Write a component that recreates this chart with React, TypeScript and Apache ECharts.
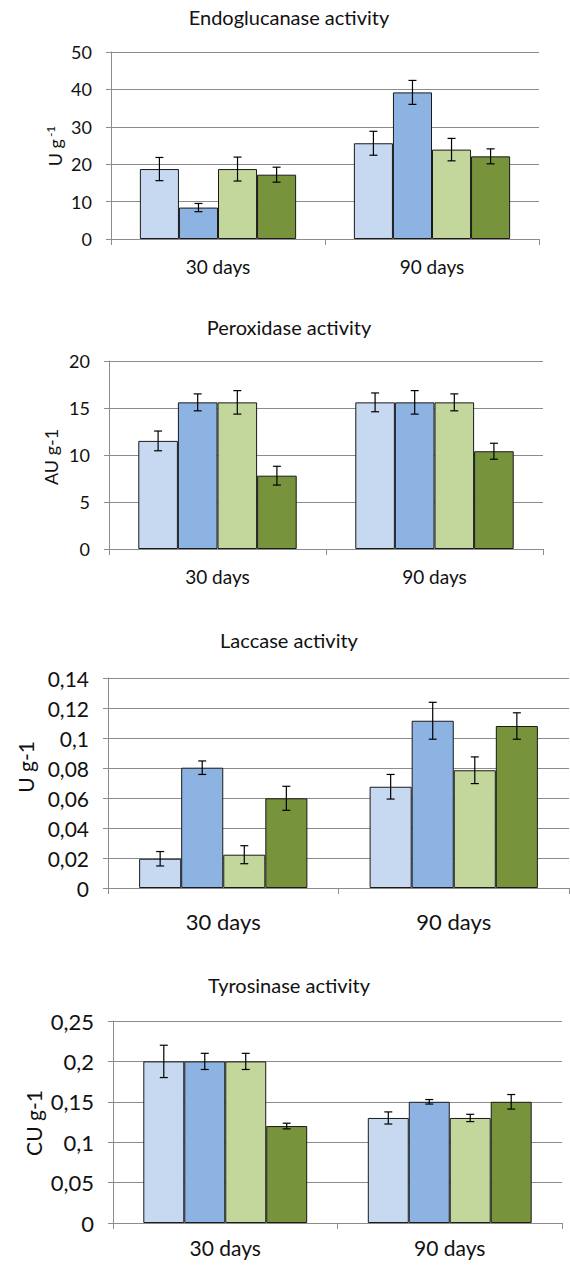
import React, { useEffect, useRef } from "react";
import * as echarts from "echarts";

const categories = ["30 days", "90 days"];

// Endoglucanase (U g-1): one row per treatment, [30 days, 90 days]
const endoMeans = [[18.7, 25.6], [8.4, 39.2], [18.7, 23.9], [17.2, 22.1]];
const endoErrs = [[3.1, 3.2], [1.1, 3.2], [3.2, 3.0], [2.0, 2.0]];

// Peroxidase (AU g-1)
const peroxMeans = [[11.5, 15.6], [15.6, 15.6], [15.6, 15.6], [7.8, 10.4]];
const peroxErrs = [[1.05, 1.0], [0.9, 1.25], [1.25, 0.9], [1.0, 0.85]];

// Laccase (U g-1)
const laccMeans = [[0.0195, 0.0675], [0.0802, 0.1115], [0.0222, 0.0785], [0.0598, 0.108]];
const laccErrs = [[0.0048, 0.0082], [0.0045, 0.0123], [0.006, 0.0089], [0.008, 0.0088]];

// Tyrosinase (CU g-1)
const tyroMeans = [[0.2, 0.13], [0.2, 0.15], [0.2, 0.13], [0.12, 0.15]];
const tyroErrs = [[0.02, 0.0075], [0.01, 0.0028], [0.01, 0.0045], [0.0035, 0.009]];

const titles = ["Endoglucanase activity", "Peroxidase activity", "Laccase activity", "Tyrosinase activity"];
const yNames = ["{a|U g}{b|-1}", "{a|AU g-1}", "{a|U g-1}", "{a|CU g-1}"];
const yMax = [50, 20, 0.14, 0.25];
const yInterval = [10, 5, 0.02, 0.05];

const colors = ["#C6D9F1", "#8DB3E2", "#C3D69B", "#77933C"];
const GAP = 0.27;
const FONT = "Lato";
const GRID_COLOR = "#8c8c8c";

const layouts = [
  { left: 111, top: 52, width: 428, height: 187, titleY: 17, nameX: 55, nameY: 146, tickFont: 18, catFont: 19, xMargin: 18, nameFont: 18 },
  { left: 109, top: 361, width: 434, height: 188, titleY: 327, nameX: 51, nameY: 457, tickFont: 18, catFont: 19, xMargin: 18, nameFont: 18 },
  { left: 108, top: 678, width: 461, height: 210, titleY: 640, nameX: 25, nameY: 767, tickFont: 21, catFont: 22, xMargin: 22, nameFont: 21 },
  { left: 113, top: 1021, width: 449, height: 202, titleY: 985, nameX: 33, nameY: 1123, tickFont: 22, catFont: 21, xMargin: 14, nameFont: 21 },
];

const allMeans = [endoMeans, peroxMeans, laccMeans, tyroMeans];
const allErrs = [endoErrs, peroxErrs, laccErrs, tyroErrs];

function fmt(v: number) {
  return (Math.round(v * 10000) / 10000).toString().replace(".", ",");
}

export default function App() {
  const ref = useRef<HTMLDivElement>(null);
  useEffect(() => {
    if (!ref.current) return;
    const chart = echarts.init(ref.current, undefined, { renderer: "svg" });
    const grid: any[] = [];
    const xAxis: any[] = [];
    const yAxis: any[] = [];
    const series: any[] = [];
    const graphic: any[] = [];

    layouts.forEach((L, p) => {
      grid.push({ left: L.left, top: L.top, width: L.width, height: L.height, containLabel: false });
      xAxis.push({
        type: "category",
        gridIndex: p,
        data: categories,
        axisLine: { show: true, lineStyle: { color: GRID_COLOR, width: 1 } },
        axisTick: { show: true, length: 6, interval: 0, lineStyle: { color: GRID_COLOR } },
        axisLabel: { fontFamily: FONT, fontSize: L.catFont, color: "#111", margin: L.xMargin, interval: 0 },
        splitLine: { show: false },
      });
      yAxis.push({
        type: "value",
        gridIndex: p,
        min: 0,
        max: yMax[p],
        interval: yInterval[p],
        axisLine: { show: true, lineStyle: { color: GRID_COLOR, width: 1 } },
        axisTick: { show: true, length: 5, lineStyle: { color: GRID_COLOR } },
        axisLabel: { fontFamily: FONT, fontSize: L.tickFont, color: "#111", margin: 19, formatter: (v: number) => fmt(v) },
        splitLine: { show: true, lineStyle: { color: GRID_COLOR, width: 1 } },
      });
      const means = allMeans[p];
      const errs = allErrs[p];
      means.forEach((row, si) => {
        series.push({
          type: "bar",
          xAxisIndex: p,
          yAxisIndex: p,
          data: row,
          barGap: "0%",
          barCategoryGap: GAP * 100 + "%",
          itemStyle: { color: colors[si], borderColor: "#1a1a1a", borderWidth: 1 },
          silent: true,
        });
      });
      const ebData: number[][] = [];
      means.forEach((row, si) => row.forEach((m, ci) => ebData.push([ci, si, m, errs[si][ci]])));
      series.push({
        type: "custom",
        xAxisIndex: p,
        yAxisIndex: p,
        z: 10,
        silent: true,
        encode: { x: 0, y: 2 },
        data: ebData,
        renderItem: (params: any, api: any) => {
          const ci = api.value(0);
          const si = api.value(1);
          const m = api.value(2);
          const e = api.value(3);
          const band = api.size([1, 0])[0];
          const bw = (band * (1 - GAP)) / 4;
          const c = api.coord([ci, m]);
          const x = c[0] + (si - 1.5) * bw;
          const yt = api.coord([ci, m + e])[1];
          const yb = api.coord([ci, m - e])[1];
          const cap = 4;
          const style = { stroke: "#000", lineWidth: 1.2 };
          return {
            type: "group",
            children: [
              { type: "line", shape: { x1: x, y1: yt, x2: x, y2: yb }, style },
              { type: "line", shape: { x1: x - cap, y1: yt, x2: x + cap, y2: yt }, style },
              { type: "line", shape: { x1: x - cap, y1: yb, x2: x + cap, y2: yb }, style },
            ],
          };
        },
      });
      graphic.push({
        type: "text",
        x: 289,
        y: L.titleY,
        style: { text: titles[p], fontFamily: FONT, fontSize: 20, fill: "#111", align: "center", verticalAlign: "middle" },
      });
      graphic.push({
        type: "text",
        x: L.nameX,
        y: L.nameY,
        rotation: Math.PI / 2,
        style: {
          text: yNames[p],
          align: "center",
          verticalAlign: "middle",
          fill: "#111",
          rich: {
            a: { fontFamily: FONT, fontSize: L.nameFont, fill: "#111" },
            b: { fontFamily: FONT, fontSize: 12, fill: "#111", padding: [0, 0, 10, 2] },
          },
        },
      });
    });

    chart.setOption({
      animation: false,
      backgroundColor: "#fff",
      grid,
      xAxis,
      yAxis,
      series,
      graphic,
    });
    return () => chart.dispose();
  }, []);
  return <div ref={ref} style={{ position: "absolute", left: 0, top: 0, width: 570, height: 1265 }} />;
}
